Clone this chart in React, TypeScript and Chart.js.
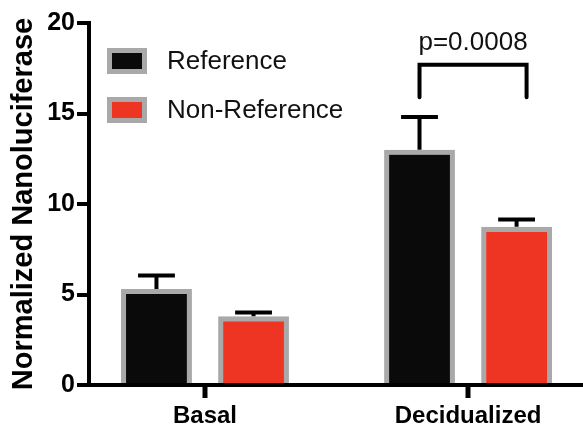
import React, { useEffect, useRef } from 'react';
import { Chart, registerables } from 'chart.js';

Chart.register(...registerables);

const CATEGORIES = ['Basal', 'Decidualized'];
const SERIES_NAMES = ['Reference', 'Non-Reference'];
const REFERENCE_MEANS = [5.3, 13.0];
const REFERENCE_ERRORS = [0.75, 1.8];
const NONREF_MEANS = [3.8, 8.75];
const NONREF_ERRORS = [0.2, 0.4];
const Y_MIN = 0;
const Y_MAX = 20;
const Y_STEP = 5;
const Y_TITLE = 'Normalized Nanoluciferase';
const P_LABEL = 'p=0.0008';
const BRACKET_CATEGORY = 1;
const BRACKET_TOP = 17.7;
const BRACKET_LEG = 15.9;

const FILLS = ['#0a0a0b', '#ee3524'];
const EDGE = '#a9a9a9';
const FONT = "'Liberation Sans', Arial, Helvetica, sans-serif";

const errorBarPlugin = {
  id: 'errorBars',
  afterDatasetsDraw(chart: any) {
    const ctx = chart.ctx;
    const y = chart.scales.y;
    chart.data.datasets.forEach((ds: any, i: number) => {
      const meta = chart.getDatasetMeta(i);
      meta.data.forEach((el: any, j: number) => {
        const v = ds.data[j].y;
        const e = ds.errors[j];
        const top = y.getPixelForValue(v + e);
        const half = el.width * 0.26;
        ctx.save();
        ctx.strokeStyle = '#000';
        ctx.lineWidth = 4;
        ctx.beginPath();
        ctx.moveTo(el.x, el.y);
        ctx.lineTo(el.x, top);
        ctx.moveTo(el.x - half, top);
        ctx.lineTo(el.x + half, top);
        ctx.stroke();
        ctx.restore();
      });
    });
  },
};

const xTickMarkPlugin = {
  id: 'xTickMarks',
  afterDraw(chart: any) {
    const ctx = chart.ctx;
    const xs = chart.scales.x;
    const base = xs.top;
    ctx.save();
    ctx.strokeStyle = '#000';
    ctx.lineWidth = 5;
    ctx.lineCap = 'butt';
    CATEGORIES.forEach((_, i) => {
      const px = Math.round(xs.getPixelForValue(i));
      ctx.beginPath();
      ctx.moveTo(px, base - 1);
      ctx.lineTo(px, base + 13);
      ctx.stroke();
    });
    ctx.restore();
  },
};

const bracketPlugin = {
  id: 'bracket',
  afterDatasetsDraw(chart: any) {
    const ctx = chart.ctx;
    const y = chart.scales.y;
    const a = chart.getDatasetMeta(0).data[BRACKET_CATEGORY];
    const b = chart.getDatasetMeta(1).data[BRACKET_CATEGORY];
    if (!a || !b) return;
    const x1 = a.x;
    const x2 = b.x + 10;
    const top = y.getPixelForValue(BRACKET_TOP);
    const leg = y.getPixelForValue(BRACKET_LEG);
    ctx.save();
    ctx.strokeStyle = '#000';
    ctx.lineWidth = 4;
    ctx.lineCap = 'round';
    ctx.lineJoin = 'miter';
    ctx.beginPath();
    ctx.moveTo(x1, leg);
    ctx.lineTo(x1, top);
    ctx.lineTo(x2, top);
    ctx.lineTo(x2, leg);
    ctx.stroke();
    ctx.fillStyle = '#111';
    ctx.font = `26px ${FONT}`;
    ctx.textAlign = 'center';
    ctx.textBaseline = 'alphabetic';
    ctx.fillText(P_LABEL, (x1 + x2) / 2, top - 15);
    ctx.restore();
  },
};

const legendPlugin = {
  id: 'customLegend',
  afterDraw(chart: any) {
    const ctx = chart.ctx;
    const area = chart.chartArea;
    const left = area.left + 18;
    const top0 = area.top + 25;
    chart.data.datasets.forEach((ds: any, i: number) => {
      const top = top0 + i * 49;
      ctx.save();
      ctx.fillStyle = EDGE;
      ctx.fillRect(left, top, 40, 26);
      ctx.fillStyle = ds.backgroundColor;
      ctx.fillRect(left + 5, top + 5, 30, 16);
      ctx.fillStyle = '#111';
      ctx.font = `26px ${FONT}`;
      ctx.textAlign = 'left';
      ctx.textBaseline = 'middle';
      ctx.fillText(ds.label, left + 60, top + 14);
      ctx.restore();
    });
  },
};

export default function App() {
  const ref = useRef<HTMLCanvasElement | null>(null);

  useEffect(() => {
    if (!ref.current) return;
    Chart.defaults.font.family = FONT;
    const means = [REFERENCE_MEANS, NONREF_MEANS];
    const errs = [REFERENCE_ERRORS, NONREF_ERRORS];
    const chart = new Chart(ref.current, {
      type: 'bar',
      data: {
        datasets: SERIES_NAMES.map((name, i) => ({
          label: name,
          data: means[i].map((v, j) => ({ x: j, y: v })),
          errors: errs[i],
          backgroundColor: FILLS[i],
          borderColor: EDGE,
          borderWidth: 5,
          borderSkipped: 'start',
          categoryPercentage: 0.738,
          barPercentage: 0.73,
        })) as any,
      },
      options: {
        animation: false,
        responsive: true,
        maintainAspectRatio: false,
        layout: { padding: { top: 23, left: 0, right: 0, bottom: 0 } },
        plugins: {
          legend: { display: false },
          tooltip: { enabled: false },
        },
        scales: {
          x: {
            type: 'linear',
            min: -0.441,
            max: 1.437,
            offset: false,
            afterBuildTicks: (s: any) => {
              s.ticks = CATEGORIES.map((_, i) => ({ value: i }));
            },
            ticks: {
              autoSkip: false,
              maxRotation: 0,
              callback: (v: any) => CATEGORIES[v] ?? '',
              font: { size: 24, weight: 'bold' },
              color: '#000',
              padding: 6,
            },
            grid: {
              display: true,
              offset: false,
              drawOnChartArea: false,
              drawTicks: true,
              tickLength: 11,
              color: '#000',
              lineWidth: 4,
            },
            border: { display: true, color: '#000', width: 4 },
            afterFit: (s: any) => {
              s.height = 42;
            },
          },
          y: {
            min: Y_MIN,
            max: Y_MAX,
            ticks: {
              stepSize: Y_STEP,
              font: { size: 25, weight: 'bold' },
              color: '#000',
              padding: 2,
            },
            grid: {
              display: true,
              drawOnChartArea: false,
              drawTicks: true,
              tickLength: 12,
              color: '#000',
              lineWidth: 4,
            },
            border: { display: true, color: '#000', width: 4 },
            title: {
              display: true,
              text: Y_TITLE,
              font: { size: 29, weight: 'bold' },
              color: '#000',
              padding: { top: 7, bottom: 0 },
            },
            afterFit: (s: any) => {
              s.width = 89;
            },
          },
        } as any,
      },
      plugins: [errorBarPlugin, bracketPlugin, legendPlugin, xTickMarkPlugin],
    });
    return () => chart.destroy();
  }, []);

  return (
    <div style={{ position: 'fixed', left: 0, top: 0, width: 583, height: 427, background: '#fff' }}>
      <canvas ref={ref} />
    </div>
  );
}
